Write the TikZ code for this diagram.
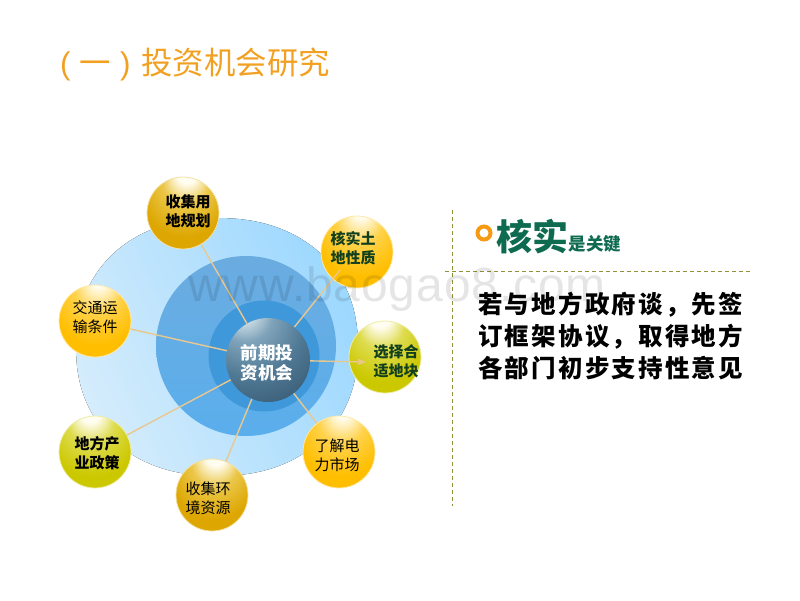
\documentclass[tikz,border=0pt]{standalone}
\usepackage{fontspec}
\setmainfont{Noto Sans CJK SC}
\newfontfamily\latinfont{Liberation Sans}
\usetikzlibrary{arrows,shapes}
\definecolor{titleorange}{HTML}{F2A021}
\definecolor{spoke}{HTML}{E9C88F}
\definecolor{rulegreen}{HTML}{8F9238}
\definecolor{keygreen}{HTML}{0F6B50}
\definecolor{darkgreen}{HTML}{12401F}
\definecolor{ringorange}{HTML}{F59A12}
\definecolor{ballwhite}{HTML}{FFFDF0}
\definecolor{goldbase}{HTML}{DDA600}
\definecolor{goldhalf}{HTML}{EBC74A}
\definecolor{amberbase}{HTML}{FFBE00}
\definecolor{amberhalf}{HTML}{FFD24A}
\definecolor{olivebase}{HTML}{CCC800}
\definecolor{olivehalf}{HTML}{DEDC50}
\definecolor{hubwhite}{HTML}{D5E3EA}
\definecolor{hubhalf}{HTML}{7FA3BA}
\definecolor{hubmid}{HTML}{4F7894}
\definecolor{hubdark}{HTML}{1A3348}
\definecolor{outerleft}{HTML}{D4ECFC}
\definecolor{outerright}{HTML}{9DD8FE}
\definecolor{middletop}{HTML}{6BACE0}
\definecolor{middlebottom}{HTML}{5AAEEC}
\definecolor{innerblue}{HTML}{3F98DA}
\pgfdeclareradialshading{goldball}{\pgfpoint{3bp}{32bp}}{color(0bp)=(ballwhite); color(7bp)=(ballwhite); color(16bp)=(goldhalf); color(30bp)=(goldbase); color(50bp)=(goldbase)}
\pgfdeclareradialshading{amberball}{\pgfpoint{3bp}{32bp}}{color(0bp)=(ballwhite); color(5bp)=(ballwhite); color(16bp)=(amberhalf); color(30bp)=(amberbase); color(50bp)=(amberbase)}
\pgfdeclareradialshading{oliveball}{\pgfpoint{-4bp}{32bp}}{color(0bp)=(ballwhite); color(7bp)=(ballwhite); color(16bp)=(olivehalf); color(30bp)=(olivebase); color(50bp)=(olivebase)}
\pgfdeclareradialshading{hubball}{\pgfpoint{-16bp}{32bp}}{color(0bp)=(hubwhite); color(6bp)=(hubwhite); color(16bp)=(hubhalf); color(32bp)=(hubmid); color(72bp)=(hubdark); color(100bp)=(hubdark)}
\tikzset{
  ballnode/.style = {circle, minimum size=72pt, inner sep=0pt},
  goldnode/.style = {ballnode, shading=goldball, draw=goldbase!35!white, line width=0.8pt},% dark gold ball
  ambernode/.style = {ballnode, shading=amberball, draw=amberbase!35!white, line width=0.8pt},% plain orange ball
  olivenode/.style = {ballnode, shading=oliveball, draw=olivebase!35!white, line width=0.8pt},% olive ball
  hubnode/.style = {circle, minimum size=84pt, inner sep=0pt, shading=hubball},
  balltext/.style = {inner sep=0pt, align=center, font=\fontsize{15}{19}\selectfont},
  boldtext/.style = {balltext, font=\fontsize{15}{19}\selectfont\bfseries},
  hubtext/.style = {inner sep=0pt, align=center, text=white,
    font=\fontsize{17.5}{20.5}\selectfont\bfseries},
  disc/.style = {circle, inner sep=0pt},
  spokeline/.style = {spoke, line width=1.4pt},
  dashrule/.style = {rulegreen, line width=0.8pt, dash pattern=on 4pt off 3pt}
}
\begin{document}
\begin{tikzpicture}[x=1pt,y=-1pt,>=stealth']
\useasboundingbox (0,0) rectangle (800,600);
% blue discs
\fill [left color=outerleft, right color=outerright, shading angle=115]
  plot [smooth cycle, samples=60, domain=3:357]
  ({217+100*cos(\x)/(pow(abs(cos(\x))/1.41,2.2)+pow(abs(sin(\x))/1.29,2.2))^0.4545},
   {347+100*sin(\x)/(pow(abs(cos(\x))/1.41,2.2)+pow(abs(sin(\x))/1.29,2.2))^0.4545});
\node [disc, minimum size=180pt, top color=middletop, bottom color=middlebottom] (middle) at (246,346) {};
\node [disc, minimum size=111pt, fill=innerblue] (inner) at (264,356) {};
% balls
\node [hubnode] (hub) at (268,360) {};
\node [goldnode] (plan) at (183,213) {};
\node [ambernode] (soil) at (357,252) {};
\node [olivenode] (site) at (385,357) {};
\node [ambernode] (power) at (339,452) {};
\node [goldnode] (env) at (212,495) {};
\node [olivenode] (policy) at (95,452) {};
\node [ambernode] (traffic) at (95,321) {};
% spokes
\coordinate (soilend) at (340,270);
\coordinate (siteend) at (365,362);
\draw [spokeline] (hub) -- (plan);
\draw [spokeline] (hub) -- (soilend);
\draw [spokeline,->] (hub) -- (siteend);
\draw [spokeline] (hub) -- (power);
\draw [spokeline] (hub) -- (env);
\draw [spokeline] (hub) -- (policy);
\draw [spokeline] (hub) -- (traffic);
% ball texts
\node [hubtext] (hublabel) at (267,363) {前期投\\资机会};
\node [boldtext] (planlabel) at (188,211) {收集用\\地规划};
\node [boldtext, text=darkgreen] (soillabel) at (353,248) {核实土\\地性质};
\node [boldtext, text=darkgreen] (sitelabel) at (396,361) {选择合\\适地块};
\node [balltext] (powerlabel) at (337,455) {了解电\\力市场};
\node [balltext] (envlabel) at (208,498) {收集环\\境资源};
\node [boldtext] (policylabel) at (97,453) {地方产\\业政策};
\node [balltext] (trafficlabel) at (95,317) {交通运\\输条件};
% title
\node [anchor=west, inner sep=0pt, text=titleorange, font=\fontsize{31.4}{36}\selectfont] (title) at (60,64) {\latinfont(\hspace{9pt}\normalfont 一\hspace{9pt}\latinfont)\hspace{11pt}\normalfont 投资机会研究};
% right panel
\coordinate (vtop) at (452,210);
\coordinate (vbot) at (452,506);
\coordinate (hleft) at (445,271);
\coordinate (hright) at (752,271);
\draw [dashrule] (vtop) -- (vbot);
\draw [dashrule] (hleft) -- (hright);
\node [circle, draw=ringorange, line width=4pt, minimum size=13pt, inner sep=0pt] (ring) at (484,233) {};
\node [anchor=base west, inner sep=0pt, text=keygreen, font=\fontsize{36}{38}\selectfont\bfseries] (key) at (496,250) {核实};
\node [anchor=base west, inner sep=0pt, text=keygreen, font=\fontsize{17.5}{20}\selectfont\bfseries] (keytail) at (key.base east) {是关键};
\node [anchor=north west, inner sep=0pt, align=left, font=\fontsize{24.5}{32}\selectfont\bfseries] (body) at (478,292) {\addfontfeature{LetterSpace=9}若与地方政府谈，先签\\\addfontfeature{LetterSpace=9}订框架协议，取得地方\\\addfontfeature{LetterSpace=9}各部门初步支持性意见};
% watermark
\node [anchor=base west, inner sep=0pt, opacity=0.10, text=black, font=\latinfont\fontsize{48}{50}\selectfont] (mark) at (188,301) {\addfontfeature{LetterSpace=1.8}www.baogao8.com};
\end{tikzpicture}
\end{document}
